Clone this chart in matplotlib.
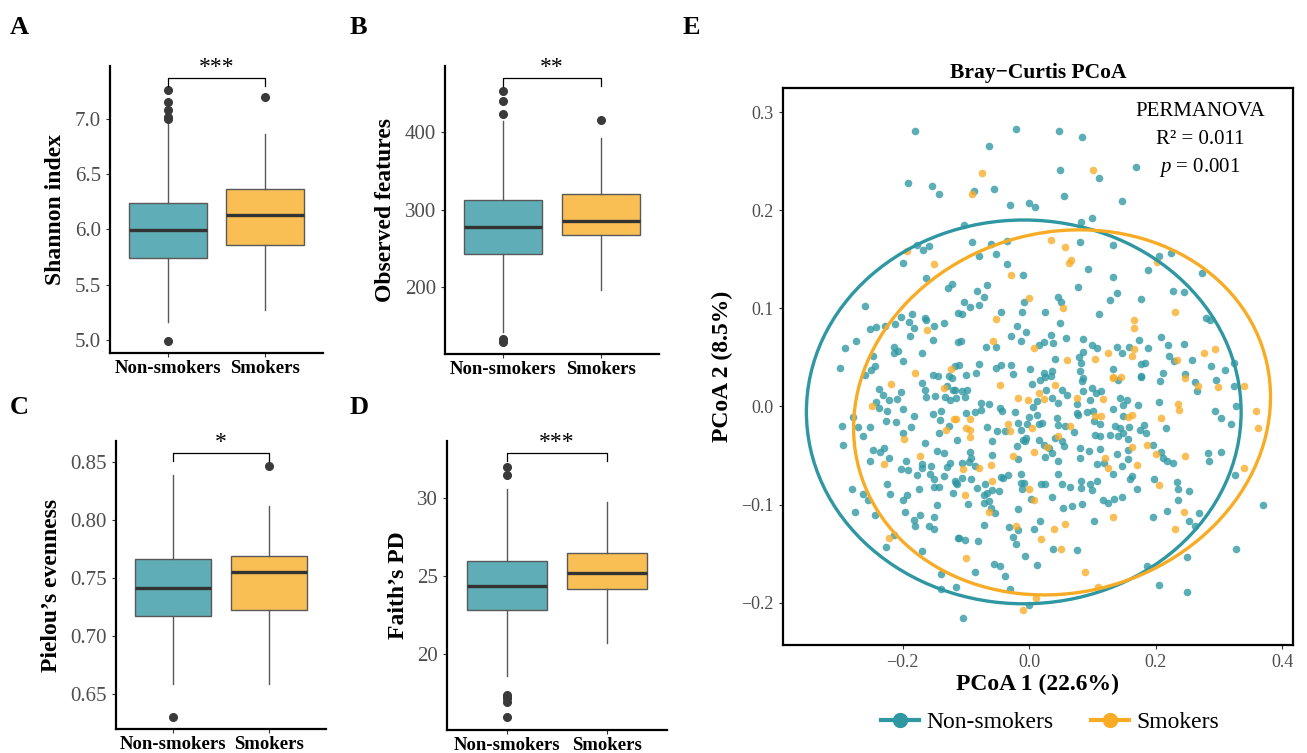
import numpy as np
import matplotlib
matplotlib.use("Agg")
import matplotlib.pyplot as plt
from matplotlib.patches import Ellipse
from matplotlib.lines import Line2D
from matplotlib.ticker import FuncFormatter

plt.rcParams['font.family'] = ['Liberation Serif', 'DejaVu Serif']
plt.rcParams['mathtext.fontset'] = 'custom'
plt.rcParams['mathtext.rm'] = 'Liberation Serif'
plt.rcParams['mathtext.it'] = 'Liberation Serif:italic'

groups = ['Non-smokers', 'Smokers']
teal = '#2E97A2'
orange = '#F8AC26'
box_fill = ['#5FADB6', '#F9BF55']

# --- alpha diversity summaries, [non-smokers, smokers] ---
shannon_med = [5.99, 6.13]
shannon_q1 = [5.74, 5.86]
shannon_q3 = [6.24, 6.37]
shannon_lo = [5.16, 5.27]
shannon_hi = [6.97, 6.86]
shannon_out = [[7.26, 7.15, 7.08, 7.02, 7.00, 4.99], [7.20]]

observed_med = [278, 286]
observed_q1 = [243, 268]
observed_q3 = [313, 321]
observed_lo = [142, 197]
observed_hi = [415, 392]
observed_out = [[453, 440, 423, 133, 129], [416]]

pielou_med = [0.741, 0.755]
pielou_q1 = [0.717, 0.722]
pielou_q3 = [0.766, 0.769]
pielou_lo = [0.658, 0.658]
pielou_hi = [0.839, 0.812]
pielou_out = [[0.630], [0.846]]

faith_med = [24.34, 25.15]
faith_q1 = [22.80, 24.15]
faith_q3 = [25.94, 26.47]
faith_lo = [18.57, 20.70]
faith_hi = [30.56, 29.70]
faith_out = [[31.99, 31.45, 17.35, 17.25, 17.14, 16.92, 15.92], []]

# --- PCoA coordinates (PC1, PC2) ---
nonsmoker_pts = [
    (-0.180, 0.281), (-0.192, 0.228), (-0.153, 0.225), (-0.143, 0.216), (-0.177, 0.165), (-0.158, 0.164),
    (-0.168, 0.159), (-0.200, 0.146), (-0.163, 0.131), (-0.129, 0.121), (-0.122, 0.125), (-0.260, 0.102),
    (-0.202, 0.091), (-0.185, 0.094), (-0.164, 0.090), (-0.163, 0.088), (-0.190, 0.086), (-0.212, 0.084),
    (-0.228, 0.082), (-0.242, 0.081), (-0.251, 0.079), (-0.182, 0.080), (-0.150, 0.082), (-0.134, 0.085),
    (-0.112, 0.095), (-0.188, 0.072), (-0.152, 0.068), (-0.273, 0.067), (-0.291, 0.060), (-0.214, 0.061),
    (-0.207, 0.057), (-0.214, 0.055), (-0.246, 0.051), (-0.170, 0.054), (-0.200, 0.046), (-0.112, 0.066),
    (-0.299, 0.039), (-0.244, 0.041), (-0.250, 0.037), (-0.117, 0.041), (-0.152, 0.032), (-0.144, 0.031),
    (-0.260, 0.032),
    (-0.020, 0.283), (0.047, 0.281), (0.084, 0.275), (-0.064, 0.265), (0.049, 0.241), (0.111, 0.233),
    (-0.087, 0.220), (-0.055, 0.222), (0.055, 0.214), (0.146, 0.209), (-0.030, 0.205), (0.000, 0.207),
    (0.009, 0.203), (0.082, 0.188), (0.100, 0.192), (-0.103, 0.185), (-0.090, 0.168), (-0.060, 0.166),
    (-0.035, 0.169), (-0.079, 0.153), (-0.053, 0.155), (0.080, 0.168), (0.133, 0.165), (-0.035, 0.145),
    (-0.010, 0.134), (0.093, 0.140), (0.132, 0.132), (0.078, 0.122), (0.139, 0.116), (-0.067, 0.124),
    (-0.083, 0.118), (-0.071, 0.112), (-0.103, 0.106), (-0.093, 0.101), (-0.079, 0.103), (-0.106, 0.094),
    (-0.008, 0.106), (0.045, 0.112), (0.051, 0.106), (0.127, 0.108), (-0.044, 0.096), (-0.012, 0.096),
    (0.025, 0.096), (0.111, 0.094), (-0.019, 0.082), (0.049, 0.085), (-0.005, 0.076), (-0.108, 0.067),
    (-0.028, 0.072), (-0.013, 0.067), (0.034, 0.073), (0.037, 0.065), (0.059, 0.070), (0.085, 0.069),
    (-0.068, 0.061), (-0.053, 0.061), (0.015, 0.063), (0.024, 0.066), (0.100, 0.063), (0.108, 0.060),
    (0.085, 0.056), (0.139, 0.061), (0.147, 0.054), (0.041, 0.048), (0.079, 0.050), (0.082, 0.044),
    (-0.111, 0.042), (-0.079, 0.043), (-0.052, 0.039), (-0.045, 0.042), (-0.029, 0.042), (0.002, 0.038),
    (0.023, 0.034), (0.036, 0.036), (-0.100, 0.032), (-0.084, 0.034), (0.081, 0.036), (0.132, 0.038),
    (0.085, 0.029),
    (0.169, 0.244), (0.205, 0.153), (0.224, 0.156), (0.188, 0.139), (0.273, 0.136), (0.228, 0.118),
    (0.244, 0.117), (0.176, 0.110), (0.280, 0.090), (0.286, 0.088), (0.174, 0.068), (0.208, 0.071),
    (0.158, 0.061), (0.188, 0.060), (0.219, 0.063), (0.245, 0.064), (0.221, 0.051), (0.229, 0.046),
    (0.258, 0.047), (0.177, 0.043), (0.183, 0.044), (0.288, 0.041), (0.309, 0.037), (0.324, 0.044),
    (0.212, 0.034), (0.176, 0.031), (0.246, 0.033),
    (-0.237, 0.018), (-0.231, 0.012), (-0.203, 0.015), (-0.209, 0.008), (-0.222, 0.007), (-0.242, 0.005),
    (-0.237, -0.002), (-0.169, 0.024), (-0.165, 0.017), (-0.127, 0.031), (-0.122, 0.029), (-0.163, 0.010),
    (-0.148, 0.011), (-0.130, 0.021), (-0.120, 0.017), (-0.133, 0.010), (-0.125, 0.007), (-0.115, 0.009),
    (-0.199, -0.003), (-0.224, -0.005), (-0.152, -0.008), (-0.139, -0.005), (-0.279, -0.011), (-0.182, -0.010),
    (-0.226, -0.015), (-0.211, -0.016), (-0.141, -0.014), (-0.295, -0.020), (-0.271, -0.021), (-0.252, -0.021),
    (-0.186, -0.021), (-0.126, -0.020), (-0.142, -0.027), (-0.263, -0.030), (-0.199, -0.027), (-0.114, -0.034),
    (-0.164, -0.037), (-0.294, -0.039), (-0.247, -0.044), (-0.230, -0.042), (-0.236, -0.046), (-0.145, -0.045),
    (-0.135, -0.047), (-0.222, -0.052), (-0.252, -0.056), (-0.195, -0.056), (-0.169, -0.059), (-0.155, -0.061),
    (-0.170, -0.063), (-0.125, -0.058), (-0.130, -0.062), (-0.203, -0.064), (-0.191, -0.065), (-0.178, -0.070),
    (-0.156, -0.069), (-0.151, -0.074), (-0.134, -0.071), (-0.115, -0.078), (-0.224, -0.079), (-0.150, -0.082),
    (-0.143, -0.082), (-0.280, -0.084), (-0.174, -0.084), (-0.220, -0.089), (-0.121, -0.088), (-0.262, -0.089),
    (-0.255, -0.095), (-0.193, -0.090), (-0.200, -0.095), (-0.146, -0.100), (-0.276, -0.107), (-0.196, -0.107),
    (-0.243, -0.111), (-0.172, -0.111), (-0.151, -0.113), (-0.182, -0.116), (-0.181, -0.122), (-0.159, -0.122),
    (-0.150, -0.125), (-0.213, -0.131), (-0.112, -0.134), (-0.226, -0.143), (-0.170, -0.147), (-0.140, -0.171),
    (-0.139, -0.186), (-0.116, -0.184),
    (-0.026, 0.033), (0.004, 0.023), (0.017, 0.027), (0.025, 0.030), (0.035, 0.031), (0.026, 0.017),
    (0.052, 0.017), (0.060, 0.012), (0.084, 0.026), (0.085, 0.016), (0.099, 0.019), (0.106, 0.014),
    (0.096, 0.007), (0.114, 0.016), (0.141, 0.027), (-0.117, 0.017), (-0.106, 0.016), (-0.098, 0.017),
    (-0.102, 0.010), (-0.076, 0.004), (-0.063, 0.003), (0.013, 0.006), (0.006, -0.001), (0.036, 0.009),
    (0.046, 0.004), (0.076, 0.003), (0.133, -0.003), (0.144, 0.009), (0.148, 0.002), (-0.046, -0.002),
    (-0.043, -0.005), (-0.022, -0.006), (-0.100, -0.007), (-0.086, -0.006), (-0.076, -0.004), (-0.067, -0.021),
    (-0.051, -0.025), (-0.058, -0.035), (-0.038, -0.025), (-0.017, -0.017), (-0.004, -0.018), (0.000, -0.011),
    (0.012, -0.009), (0.016, -0.018), (0.021, -0.017), (-0.013, -0.024), (-0.009, -0.034), (-0.005, -0.032),
    (0.044, -0.012), (0.046, -0.019), (0.057, -0.020), (0.071, -0.026), (0.075, -0.007), (0.078, -0.009),
    (0.091, -0.006), (0.101, -0.005), (0.103, -0.015), (0.112, -0.018), (0.136, -0.020), (0.144, -0.022),
    (0.149, -0.010), (0.104, -0.029), (0.112, -0.030), (0.128, -0.029), (0.141, -0.030), (0.149, -0.027),
    (-0.019, -0.040), (-0.006, -0.035), (0.015, -0.034), (0.024, -0.039), (0.032, -0.042), (0.041, -0.032),
    (0.052, -0.035), (0.055, -0.040), (-0.017, -0.054), (0.036, -0.047), (0.025, -0.051), (0.081, -0.042),
    (0.094, -0.045), (0.112, -0.043), (0.081, -0.052), (0.139, -0.048), (0.157, -0.044), (-0.093, -0.046),
    (-0.092, -0.052), (-0.106, -0.058), (-0.095, -0.057), (-0.085, -0.061), (-0.059, -0.049), (0.046, -0.056),
    (0.107, -0.059), (0.118, -0.058), (0.133, -0.069), (0.146, -0.061), (-0.117, -0.076), (-0.106, -0.073),
    (-0.092, -0.074), (-0.114, -0.079), (-0.083, -0.083), (-0.069, -0.079), (-0.067, -0.088), (-0.058, -0.085),
    (-0.047, -0.086), (-0.045, -0.072), (-0.034, -0.070), (-0.041, -0.073), (-0.013, -0.069), (-0.013, -0.078),
    (-0.008, -0.078), (-0.012, -0.084), (0.019, -0.079), (0.025, -0.079), (0.045, -0.069), (0.052, -0.079),
    (0.064, -0.082), (0.036, -0.092), (0.082, -0.076), (0.082, -0.083), (0.096, -0.079), (0.099, -0.085),
    (0.108, -0.076), (-0.097, -0.099), (-0.072, -0.098), (-0.071, -0.090), (-0.064, -0.096), (-0.060, -0.103),
    (-0.054, -0.109), (0.003, -0.094), (-0.017, -0.104), (0.053, -0.103), (0.068, -0.101), (0.083, -0.099),
    (0.116, -0.095), (0.125, -0.098), (0.134, -0.094), (0.146, -0.092), (-0.071, -0.121), (-0.032, -0.123),
    (-0.018, -0.126), (-0.026, -0.133), (-0.021, -0.140), (0.017, -0.117), (0.008, -0.125), (0.102, -0.117),
    (-0.111, -0.134), (-0.101, -0.136), (-0.081, -0.137), (0.038, -0.145), (0.076, -0.146), (-0.007, -0.152),
    (-0.056, -0.160), (-0.046, -0.163), (0.012, -0.161), (-0.086, -0.169), (-0.038, -0.173), (-0.031, -0.186),
    (0.000, -0.202), (-0.104, -0.216),
    (0.176, 0.030), (0.207, 0.026), (0.262, 0.025), (0.265, 0.016), (0.295, 0.027), (0.324, 0.021),
    (0.154, 0.007), (0.172, 0.002), (0.206, 0.005), (0.327, 0.000), (0.294, -0.005), (0.304, -0.012),
    (0.319, -0.018), (0.158, -0.021), (0.182, -0.019), (0.175, -0.024), (0.184, -0.027), (0.217, -0.022),
    (0.156, -0.033), (0.196, -0.039), (0.208, -0.046), (0.211, -0.052), (0.218, -0.056), (0.228, -0.058),
    (0.283, -0.047), (0.284, -0.056), (0.304, -0.046), (0.157, -0.054), (0.162, -0.071), (0.160, -0.074),
    (0.170, -0.084), (0.197, -0.074), (0.233, -0.077), (0.236, -0.084), (0.252, -0.086), (0.235, -0.095),
    (0.325, -0.070), (0.370, -0.100), (0.218, -0.106), (0.195, -0.113), (0.269, -0.109), (0.252, -0.117),
    (0.262, -0.122), (0.327, -0.145), (0.250, -0.153), (0.186, -0.163), (0.206, -0.182), (0.250, -0.189),
]

smoker_pts = [
    (-0.193, 0.158), (-0.151, 0.145), (-0.161, 0.078), (-0.180, 0.034), (-0.124, 0.038),
    (-0.075, 0.238), (0.101, 0.241), (-0.091, 0.216), (0.035, 0.170), (0.057, 0.163), (0.066, 0.149),
    (0.063, 0.146), (-0.028, 0.134), (-0.001, 0.111), (0.054, 0.100), (-0.053, 0.089), (-0.057, 0.067),
    (0.007, 0.060), (0.124, 0.055), (0.060, 0.047), (0.104, 0.048), (0.133, 0.030), (0.145, 0.030),
    (0.202, 0.147), (0.231, 0.096), (0.165, 0.088), (0.166, 0.080), (0.166, 0.059), (0.277, 0.055),
    (0.293, 0.059), (0.162, 0.051), (0.234, 0.047),
    (-0.218, 0.023), (-0.248, 0.000), (-0.134, 0.019), (-0.119, -0.013), (-0.131, -0.024), (-0.197, -0.033),
    (-0.173, -0.050), (-0.230, -0.059), (-0.221, -0.134),
    (-0.046, 0.022), (0.041, 0.022), (0.133, 0.029), (-0.018, 0.009), (-0.002, 0.007), (0.016, 0.014),
    (0.024, 0.008), (0.075, 0.009), (0.117, 0.008), (-0.093, -0.013), (-0.115, -0.013), (-0.100, -0.022),
    (-0.093, -0.024), (-0.093, -0.031), (-0.034, -0.018), (-0.030, -0.025), (0.005, -0.022), (0.065, -0.020),
    (0.104, -0.010), (0.113, -0.010), (0.157, -0.011), (0.045, -0.030), (0.008, -0.046), (0.028, -0.041),
    (-0.025, -0.050), (0.120, -0.052), (-0.105, -0.064), (-0.079, -0.063), (-0.060, -0.060), (0.124, -0.063),
    (-0.059, -0.076), (0.000, -0.084), (-0.101, -0.090), (-0.064, -0.107), (0.007, -0.095), (-0.021, -0.122),
    (0.039, -0.125), (0.056, -0.120), (0.019, -0.135), (0.132, -0.113), (0.051, -0.145), (-0.100, -0.154),
    (0.088, -0.169), (0.109, -0.184), (0.011, -0.195), (-0.009, -0.207),
    (0.247, 0.029), (0.267, 0.021), (0.299, 0.020), (0.339, 0.021), (0.236, 0.003), (0.237, -0.004),
    (0.358, -0.005), (0.361, -0.022), (0.163, -0.009), (0.209, -0.012), (0.163, -0.041), (0.187, -0.039),
    (0.200, -0.048), (0.246, -0.050), (0.171, -0.060), (0.206, -0.080), (0.339, -0.063), (0.244, -0.107),
    (0.231, -0.125),
]

# 95% confidence ellipses: centre x, centre y, width, height, angle
ellipse_ns = [-0.0085, -0.0055, 0.687, 0.391, 0]
ellipse_sm = [0.052, -0.006, 0.660, 0.370, 4]

W, H = 1307, 753
fig = plt.figure(figsize=(W / 100, H / 100), dpi=100)


def ax_px(l, t, r, b):
    return fig.add_axes([l / W, 1 - b / H, (r - l) / W, (b - t) / H])


def box_panel(rect, med, q1, q3, lo, hi, out, ylim, yticks, fmt, ylabel, stars, brk, letter, lpos):
    ax = ax_px(*rect)
    stats = []
    for i in range(2):
        stats.append(dict(med=med[i], q1=q1[i], q3=q3[i], whislo=lo[i], whishi=hi[i], fliers=out[i]))
    bp = ax.bxp(stats, positions=[1, 2], widths=0.8, patch_artist=True, showcaps=False,
                boxprops=dict(edgecolor='#595959', linewidth=1.0),
                medianprops=dict(color='#333333', linewidth=2.4),
                whiskerprops=dict(color='#595959', linewidth=1.0),
                flierprops=dict(marker='o', markerfacecolor='#3a3a3a', markeredgecolor='#3a3a3a',
                                markersize=5.5))
    for patch, c in zip(bp['boxes'], box_fill):
        patch.set_facecolor(c)
    ax.set_xlim(0.4, 2.6)
    ax.set_ylim(*ylim)
    ax.set_yticks(yticks)
    ax.yaxis.set_major_formatter(FuncFormatter(lambda v, p: fmt.format(v)))
    ax.set_xticks([1, 2])
    ax.set_xticklabels(groups, fontsize=13.5, fontweight='bold', color='black')
    ax.tick_params(axis='y', labelsize=15, labelcolor='#4d4d4d', color='#333333', length=3)
    ax.tick_params(axis='x', color='#333333', length=3, pad=2)
    for s in ['top', 'right']:
        ax.spines[s].set_visible(False)
    for s in ['left', 'bottom']:
        ax.spines[s].set_linewidth(1.6)
    ax.set_ylabel(ylabel, fontsize=17, fontweight='bold', labelpad=6)
    top, tip = brk
    ax.plot([1, 1, 2, 2], [tip, top, top, tip], color='black', lw=0.9, clip_on=False)
    ax.annotate(stars, (1.5, top), xytext=(0, 0), textcoords='offset points',
                ha='center', va='bottom', fontsize=17, annotation_clip=False)
    fig.text(lpos[0] / W, 1 - lpos[1] / H, letter, fontsize=19, fontweight='bold',
             ha='left', va='center')
    return ax


box_panel((110, 66, 323, 353), shannon_med, shannon_q1, shannon_q3, shannon_lo, shannon_hi,
          shannon_out, (4.88, 7.48), [5.0, 5.5, 6.0, 6.5, 7.0], '{:.1f}', 'Shannon index',
          '***', (7.37, 7.30), 'A', (10, 28))
box_panel((445, 66, 659, 354), observed_med, observed_q1, observed_q3, observed_lo, observed_hi,
          observed_out, (114, 485.5), [200, 300, 400], '{:.0f}', 'Observed features',
          '**', (469.7, 459.7), 'B', (350, 28))
box_panel((116, 441, 326, 729), pielou_med, pielou_q1, pielou_q3, pielou_lo, pielou_hi,
          pielou_out, (0.6195, 0.868), [0.65, 0.70, 0.75, 0.80, 0.85], '{:.2f}', 'Pielou’s evenness',
          '*', (0.858, 0.851), 'C', (10, 408))
box_panel((447, 441, 667, 730), faith_med, faith_q1, faith_q3, faith_lo, faith_hi,
          faith_out, (15.11, 33.63), [20, 25, 30], '{:.0f}', 'Faith’s PD',
          '***', (32.85, 32.37), 'D', (350, 408))

# --- PCoA panel ---
ax = ax_px(783, 88, 1293, 645)
ns = np.array(nonsmoker_pts)
sm = np.array(smoker_pts)
ax.scatter(ns[:, 0], ns[:, 1], s=30, color=teal, alpha=0.78, linewidths=0, zorder=2)
ax.scatter(sm[:, 0], sm[:, 1], s=30, color=orange, alpha=0.78, linewidths=0, zorder=2)
for e, c in [(ellipse_ns, teal), (ellipse_sm, orange)]:
    ax.add_patch(Ellipse((e[0], e[1]), e[2], e[3], angle=e[4], fill=False,
                         edgecolor=c, linewidth=2.4, zorder=3))
ax.set_xlim(-0.389, 0.417)
ax.set_ylim(-0.243, 0.3245)
ax.set_xticks([-0.2, 0.0, 0.2, 0.4])
ax.set_yticks([-0.2, -0.1, 0.0, 0.1, 0.2, 0.3])
minus_fmt = FuncFormatter(lambda v, p: '{:.1f}'.format(v).replace('-', '\u2212'))
ax.xaxis.set_major_formatter(minus_fmt)
ax.yaxis.set_major_formatter(minus_fmt)
ax.tick_params(labelsize=13, labelcolor='#4d4d4d', color='#333333', length=3)
for s in ax.spines.values():
    s.set_linewidth(1.6)
ax.set_xlabel('PCoA 1 (22.6%)', fontsize=17, fontweight='bold', labelpad=2)
ax.set_ylabel('PCoA 2 (8.5%)', fontsize=17, fontweight='bold', labelpad=6)
ax.set_title('Bray\u2212Curtis PCoA', fontsize=15.5, fontweight='bold', pad=7)
ax.text(0.818, 0.957, 'PERMANOVA', transform=ax.transAxes, ha='center', va='center', fontsize=15)
ax.text(0.818, 0.907, 'R² = 0.011', transform=ax.transAxes, ha='center', va='center', fontsize=15)
ax.text(0.818, 0.858, '$p$ = 0.001', transform=ax.transAxes, ha='center', va='center', fontsize=15)
fig.text(683 / W, 1 - 28 / H, 'E', fontsize=19, fontweight='bold', ha='left', va='center')

handles = [Line2D([0], [0], color=teal, lw=3, marker='o', markersize=10),
           Line2D([0], [0], color=orange, lw=3, marker='o', markersize=10)]
fig.legend(handles, groups, loc='center', bbox_to_anchor=(1050 / W, 1 - 722 / H), ncol=2,
           frameon=False, fontsize=17, handlelength=1.6, handletextpad=0.3, columnspacing=1.6)

fig.savefig('out.png', dpi=100)
